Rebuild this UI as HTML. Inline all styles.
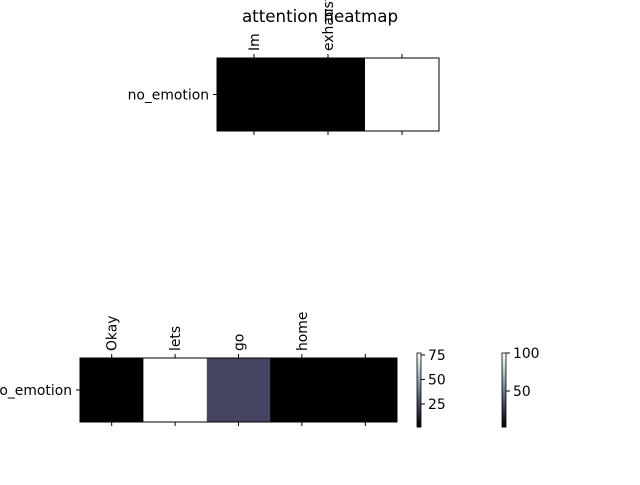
<!DOCTYPE html>
<html><head><meta charset="utf-8"><style>
body{margin:0;background:#fff}svg text{font-family:"DejaVu Sans","Liberation Sans",sans-serif;font-size:13.9px;fill:#000}
</style></head><body>
<svg id="c" width="640" height="480" viewBox="0 0 640 480">
<rect width="640" height="480" fill="#fff"/>
<text x="320" y="22" text-anchor="middle" style="font-size:16.7px">attention heatmap</text>
</svg>
<script>
const topTokens = ["Im", "exhausted", ""];
const topValues = [2.6, 2.6, 100];
const topTicks = [50, 100];
const botTokens = ["Okay", "lets", "go", "home", ""];
const botValues = [1.5, 77, 25, 1.5, 1.5];
const botTicks = [25, 50, 75];
const rowLabel = "no_emotion";

const NS = "http://www.w3.org/2000/svg";
const svg = document.getElementById('c');
function mk(t, a, p) { const e = document.createElementNS(NS, t); for (const k in a) e.setAttribute(k, a[k]); (p || svg).appendChild(e); return e; }
function interp(pts, f) { for (let i = 1; i < pts.length; i++) { if (f <= pts[i][0]) { const [x0, y0] = pts[i-1], [x1, y1] = pts[i]; return y0 + (y1-y0)*(f-x0)/(x1-x0); } } return 1; }
function bone(f) {
  f = Math.max(0, Math.min(1, f));
  const r = interp([[0,0],[0.746,0.652],[1,1]], f), g = interp([[0,0],[0.365,0.319],[0.746,0.777],[1,1]], f), b = interp([[0,0],[0.365,0.444],[1,1]], f);
  return `rgb(${Math.round(r*255)},${Math.round(g*255)},${Math.round(b*255)})`;
}
function heatmap(name, tokens, values, x0, y0, w, h) {
  const g = mk('g', {});
  
  
  const mn = Math.min(...values), mx = Math.max(...values);
  const cw = w / values.length;
  values.forEach((v, i) => {
    const r = mk('rect', { x: x0 + i*cw, y: y0, width: cw + 0.5, height: h, fill: bone((v - mn)/(mx - mn || 1)) }, g);
    
    
    const cx = x0 + (i + 0.5)*cw;
    mk('line', { x1: cx, y1: y0, x2: cx, y2: y0 - 4, stroke: '#000' }, g);
    mk('line', { x1: cx, y1: y0 + h, x2: cx, y2: y0 + h + 4, stroke: '#000' }, g);
    const t = mk('text', { transform: `translate(${cx + 5},${y0 - 7}) rotate(-90)` }, g);
    t.textContent = tokens[i];
    
    
  });
  mk('rect', { x: x0, y: y0, width: w, height: h, fill: 'none', stroke: '#000', 'stroke-width': 1 }, g);
  mk('line', { x1: x0, y1: y0 + h/2, x2: x0 - 4, y2: y0 + h/2, stroke: '#000' }, g);
  const yl = mk('text', { x: x0 - 8, y: y0 + h/2 + 5, 'text-anchor': 'end' }, g);
  yl.textContent = rowLabel;
  
  
}
function colorbar(name, values, ticks, x0, y0, w, h) {
  const g = mk('g', {});
  
  
  const mn = Math.min(...values), mx = Math.max(...values);
  const n = 60;
  for (let i = 0; i < n; i++) mk('rect', { x: x0, y: y0 + h - (i+1)*h/n, width: w, height: h/n + 0.5, fill: bone((i + 0.5)/n) }, g);
  mk('rect', { x: x0, y: y0, width: w, height: h, fill: 'none', stroke: '#000', 'stroke-width': 0.8 }, g);
  ticks.forEach(t => {
    const y = y0 + h - (t - mn)/(mx - mn)*h;
    mk('line', { x1: x0 + w, y1: y, x2: x0 + w + 4, y2: y, stroke: '#000' }, g);
    const tx = mk('text', { x: x0 + w + 7, y: y + 5 }, g);
    tx.textContent = t;
    
    
  });
}
heatmap('top-heatmap', topTokens, topValues, 217, 58, 222, 73);
heatmap('bottom-heatmap', botTokens, botValues, 80, 358, 317, 64);
colorbar('bottom-colorbar', botValues, botTicks, 417, 353, 4, 74);
colorbar('top-colorbar', topValues, topTicks, 502, 353, 4, 74);
</script>
</body></html>
